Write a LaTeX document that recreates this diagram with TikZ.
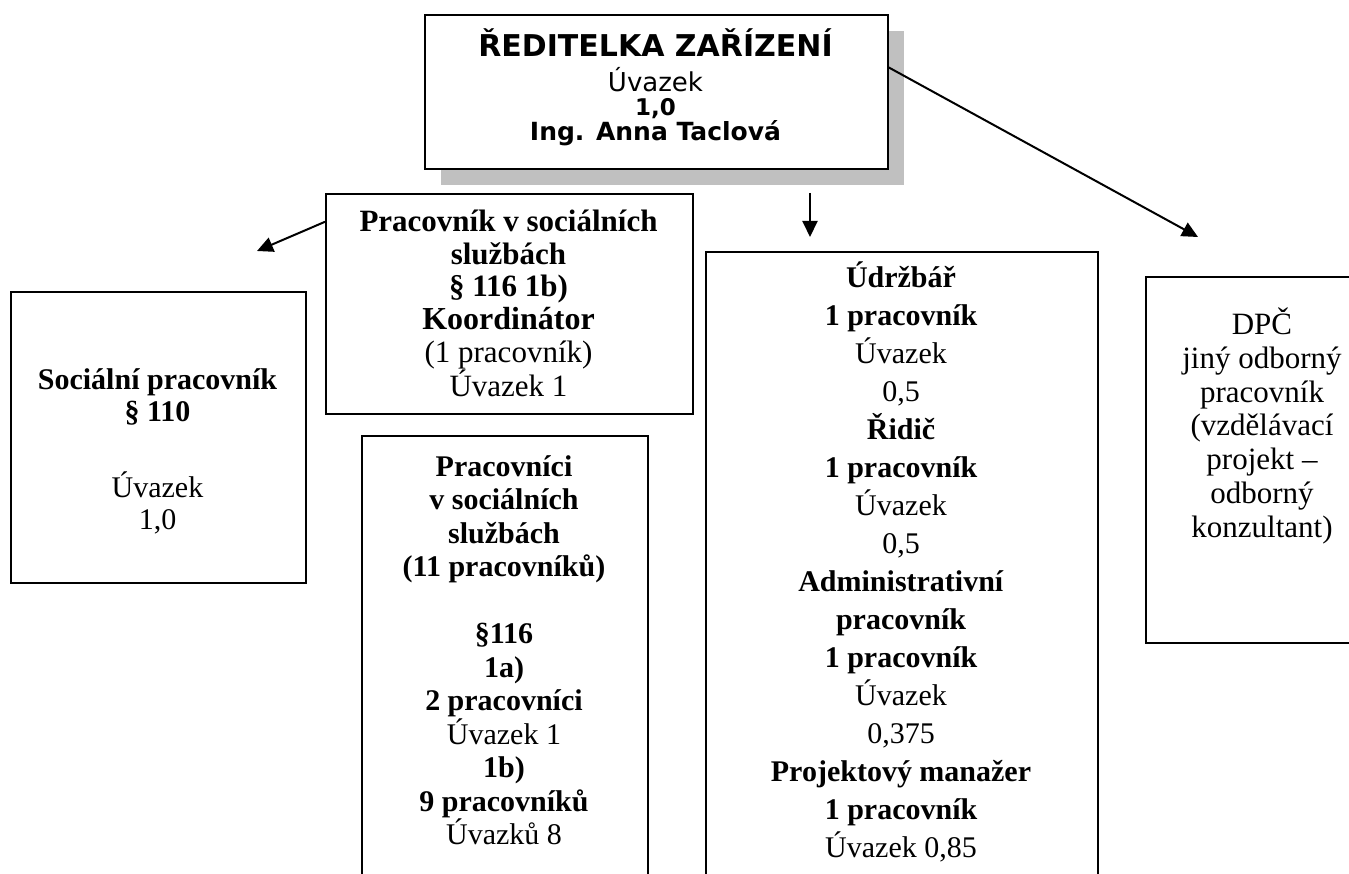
\documentclass[tikz,border=0pt]{standalone}
\usepackage{fontspec}
\setmainfont{Liberation Serif}
\newfontfamily\verdana{DejaVu Sans}
\usetikzlibrary{arrows.meta,shadows}
\definecolor{shadowgray}{HTML}{C0C0C0}
\tikzset{
  frame/.style={draw, line width=1.8pt, anchor=north west, inner sep=0pt, fill=white},
  boxtext/.style={align=center, anchor=north, inner sep=0pt},
  link/.style={line width=2pt, -{Triangle[length=16pt,width=15pt]}},
}

\begin{document}
\begin{tikzpicture}[x=1pt, y=-1pt]
  \useasboundingbox (0,0) rectangle (1349,874);
  % boxes
  \node[frame, minimum width=463pt, minimum height=154pt,
        drop shadow={shadow xshift=16pt, shadow yshift=-16pt, fill=shadowgray, opacity=1}] (chief) at (424,14) {};
  \node[frame, minimum width=295pt, minimum height=291pt] (soc) at (10,291) {};
  \node[frame, minimum width=367pt, minimum height=220pt] (koord) at (325,193) {};
  \node[frame, minimum width=286pt, minimum height=500pt] (staff) at (361,435) {};
  \node[frame, minimum width=392pt, minimum height=700pt] (tech) at (705,251) {};
  \node[frame, minimum width=240pt, minimum height=366pt] (dpc) at (1145,276) {};
  % texts
  \node[boxtext, font=\verdana\fontsize{26}{24}\selectfont] (chieftext) at (655.5,28)
    {{\fontsize{30}{24}\selectfont\bfseries ŘEDITELKA ZAŘÍZENÍ}\\[10pt]
     Úvazek\\
     {\fontsize{23}{24}\selectfont\bfseries 1,0}\\[1pt]
     {\fontsize{25}{24}\selectfont\bfseries Ing. Anna Taclová}};
  \node[boxtext, font=\fontsize{30}{32}\selectfont] (soctext) at (157.5,368)
    {\textbf{Sociální pracovník}\\ \textbf{§ 110}\\[44pt] Úvazek\\ 1,0};
  \node[boxtext, font=\fontsize{31}{32.6}\selectfont] (koordtext) at (508.5,210)
    {\textbf{Pracovník v sociálních}\\ \textbf{službách}\\ \textbf{§ 116 1b)}\\
     {\fontsize{32}{32.6}\selectfont\bfseries Koordinátor}\\ (1 pracovník)\\ Úvazek 1};
  \node[boxtext, font=\fontsize{30}{33.5}\selectfont] (stafftext) at (504,455)
    {\textbf{Pracovníci}\\ \textbf{v sociálních}\\ \textbf{službách}\\
     \textbf{(11 pracovníků)}\\[33.5pt] \textbf{§116}\\ \textbf{1a)}\\
     \textbf{2 pracovníci}\\ Úvazek 1\\ \textbf{1b)}\\ \textbf{9 pracovníků}\\ Úvazků 8};
  \node[boxtext, font=\fontsize{30}{38}\selectfont] (techtext) at (901,262)
    {\textbf{Údržbář}\\ \textbf{1 pracovník}\\ Úvazek\\ 0,5\\
     \textbf{Řidič}\\ \textbf{1 pracovník}\\ Úvazek\\ 0,5\\
     \textbf{Administrativní}\\ \textbf{pracovník}\\ \textbf{1 pracovník}\\ Úvazek\\ 0,375\\
     \textbf{Projektový manažer}\\ \textbf{1 pracovník}\\ Úvazek 0,85};
  \node[boxtext, font=\fontsize{31}{33.7}\selectfont] (dpctext) at (1262,308)
    {DPČ\\ jiný odborný\\ pracovník\\ (vzdělávací\\ projekt –\\ odborný\\ konzultant)};
  % arrows
  \coordinate (socend) at (257,251);
  \coordinate (techstart) at (810,193);
  \coordinate (techend) at (810,237);
  \coordinate (dpcend) at (1198,237);
  \draw[link] (koord.156) -- (socend);
  \draw[link] (techstart) -- (techend);
  \draw[link] (chief.6) -- (dpcend);
\end{tikzpicture}
\end{document}
